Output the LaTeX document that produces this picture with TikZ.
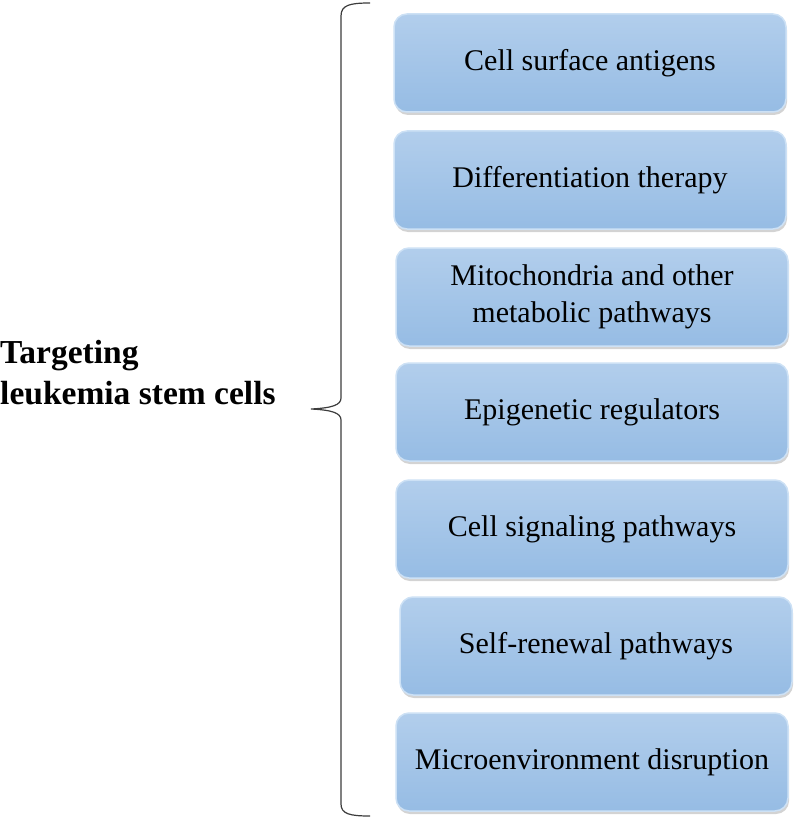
\documentclass[tikz,border=0pt]{standalone}
\usepackage{fontspec}
\setmainfont{Liberation Serif}
\usetikzlibrary{shadows}

\begin{document}
\begin{tikzpicture}[x=1pt,y=-1pt]
      \tikzset{item/.style = {shape=rectangle,rounded corners=13pt,draw={rgb,255:red,205;green,225;blue,245},line width=1.5pt,
          top color={rgb,255:red,178;green,206;blue,236},bottom color={rgb,255:red,150;green,188;blue,228},
          drop shadow={shadow xshift=1pt,shadow yshift=-3pt,opacity=0.35},
          minimum width=392pt,minimum height=98pt,align=center,font=\fontsize{30}{37}\selectfont}}
      \tikzset{brace/.style = {draw={rgb,255:red,60;green,60;blue,60},line width=1.2pt}}
      \useasboundingbox (0,0) rectangle (800,824);
      \node[align=left,anchor=west,inner xsep=0pt,font=\fontsize{33.5}{41}\selectfont\bfseries] (t) at (0,373) {Targeting\\leukemia stem cells};
      \node[item] (b1) at (590,63) {Cell surface antigens};
      \node[item] (b2) at (590,180) {Differentiation therapy};
      \node[item] (b3) at (592,297) {Mitochondria and other\\metabolic pathways};
      \node[item] (b4) at (592,412) {Epigenetic regulators};
      \node[item] (b5) at (592,529) {Cell signaling pathways};
      \node[item] (b6) at (596,646) {Self-renewal pathways};
      \node[item] (b7) at (592,762) {Microenvironment disruption};
      \coordinate (top) at (370,3);
      \coordinate (tip) at (311,409);
      \coordinate (bot) at (370,816);
      \draw[brace] (top) .. controls (350,3) and (341,5) .. (341,16) -- (341,398)
          .. controls (341,405) and (332,408) .. (tip)
          .. controls (332,410) and (341,413) .. (341,420) -- (341,804)
          .. controls (341,814) and (350,816) .. (bot);
\end{tikzpicture}
\end{document}
